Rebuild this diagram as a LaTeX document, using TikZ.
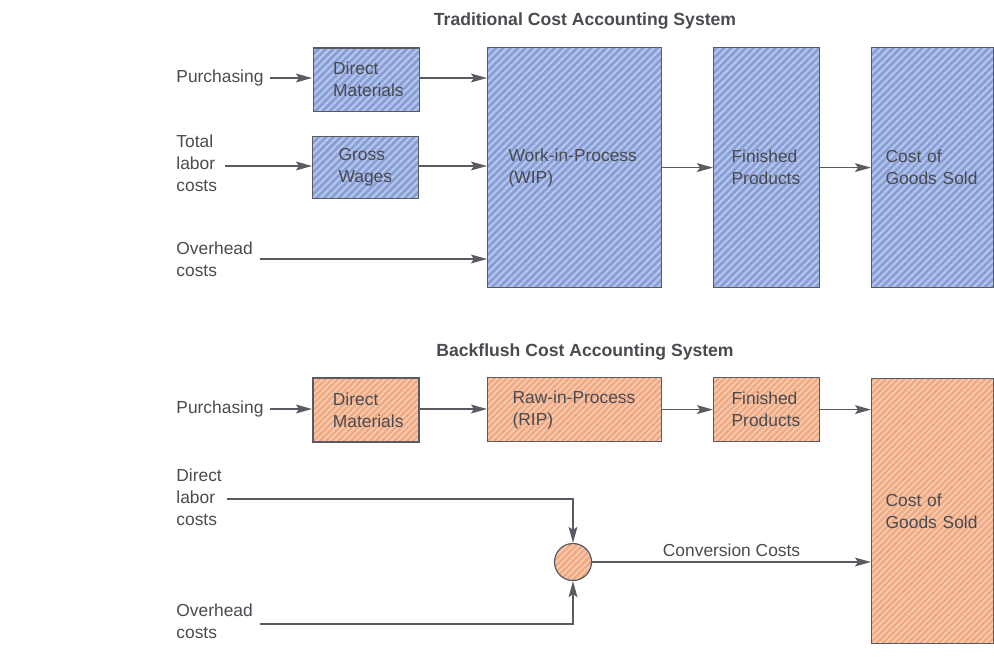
\documentclass[tikz,border=0pt]{standalone}
\usepackage{fontspec}
\setmainfont{Liberation Sans}
\usetikzlibrary{arrows.meta,patterns.meta}

\definecolor{blueBase}{HTML}{889ED6}
\definecolor{blueLine}{HTML}{B6C5EA}
\definecolor{orangeBase}{HTML}{EFA983}
\definecolor{orangeLine}{HTML}{F8CBB1}
\definecolor{edge}{HTML}{5A5A62}
\definecolor{ink}{HTML}{4A4A50}

\tikzset{
  every node/.style={font=\fontsize{8.7pt}{11pt}\selectfont, text=ink},
  acct/.style 2 args={draw=edge, line width=0.6pt, rectangle, anchor=north west,
    minimum width=#1*0.5pt, minimum height=#2*0.5pt, align=left},
  bluebox/.style={preaction={fill=blueBase},
    pattern={Lines[angle=45,distance=2.6pt,line width=1.1pt]}, pattern color=blueLine},
  orangebox/.style={preaction={fill=orangeBase},
    pattern={Lines[angle=45,distance=2.2pt,line width=0.9pt]}, pattern color=orangeLine},
  lbl/.style={align=left, anchor=west, inner sep=0pt},
  ttl/.style={font=\fontsize{8.8pt}{11pt}\selectfont\bfseries, text=ink},
  flow/.style={draw=edge, line width=0.8pt, -{Stealth[length=8pt,width=4.4pt,inset=1.5pt]}},
}

\begin{document}
\begin{tikzpicture}[x=0.5pt,y=-0.5pt]
\useasboundingbox (0,0) rectangle (994,658);

% ---------------- Traditional system ----------------
\node[ttl] (t1) at (585,21) {Traditional Cost Accounting System};

\node[acct={106}{63}, bluebox, text width=33pt, inner xsep=9.5pt] (dm1) at (312,47)
  {Direct\\Materials};
\node[acct={106}{62}, bluebox, text width=27pt, inner xsep=13pt] (gw1) at (312,136)
  {Gross\\Wages};
\node[acct={173}{240}, bluebox, text width=66pt, inner xsep=10.5pt] (wip1) at (487,47)
  {Work-in-Process\\(WIP)};
\node[acct={106}{240}, bluebox, text width=35pt, inner xsep=9pt] (fp1) at (713,47)
  {Finished\\Products};
\node[acct={122}{240}, bluebox, text width=47pt, inner xsep=7pt] (cgs1) at (871,47)
  {Cost of\\Goods Sold};

\node[lbl] (pur1) at (176,78) {Purchasing};
\node[lbl] (lab1) at (176,163) {Total\\labor\\costs};
\node[lbl] (ovh1) at (176,259) {Overhead\\costs};

\coordinate (pur1e) at (270,78);
\coordinate (lab1e) at (225,166);
\coordinate (ovh1e) at (260,259);

\draw[flow] (pur1e) -- (pur1e -| dm1.west);
\draw[flow] (lab1e) -- (lab1e -| gw1.west);
\draw[flow] (dm1.east |- pur1e) -- (pur1e -| wip1.west);
\draw[flow] (gw1.east |- lab1e) -- (lab1e -| wip1.west);
\draw[flow] (ovh1e) -- (ovh1e -| wip1.west);
\draw[flow] (wip1.east) -- (fp1.west);
\draw[flow] (fp1.east) -- (cgs1.west);

% ---------------- Backflush system ----------------
\node[ttl] (t2) at (585,352) {Backflush Cost Accounting System};

\node[acct={106}{64}, orangebox, text width=33pt, inner xsep=9.5pt] (dm2) at (312,377)
  {Direct\\Materials};
\node[acct={173}{64}, orangebox, text width=62pt, inner xsep=12.5pt] (rip2) at (487,377)
  {Raw-in-Process\\(RIP)};
\node[acct={105}{64}, orangebox, text width=35pt, inner xsep=9pt] (fp2) at (713,377)
  {Finished\\Products};
\node[acct={122}{265}, orangebox, text width=47pt, inner xsep=7pt] (cgs2) at (871,378)
  {Cost of\\Goods Sold};
\node[circle, draw=edge, line width=0.6pt, orangebox, minimum size=18.5pt, inner sep=0pt]
  (sum2) at (573,562) {};

\node[lbl] (pur2) at (176,409) {Purchasing};
\node[lbl] (lab2) at (176,497) {Direct\\labor\\costs};
\node[lbl] (ovh2) at (176,621) {Overhead\\costs};

\coordinate (pur2e) at (270,409);
\coordinate (lab2e) at (227,499);
\coordinate (ovh2e) at (260,624);

\draw[flow] (pur2e) -- (pur2e -| dm2.west);
\draw[flow] (dm2.east |- pur2e) -- (pur2e -| rip2.west);
\draw[flow] (rip2.east) -- (fp2.west);
\draw[flow] (fp2.east) -- (fp2.east -| cgs2.west);
\draw[flow] (lab2e) -| (sum2.north);
\draw[flow] (ovh2e) -| (sum2.south);
\draw[flow] (sum2.east) -- node[above=2.5pt, inner sep=0pt] (cc2) {Conversion Costs} (sum2.east -| cgs2.west);

\end{tikzpicture}
\end{document}
